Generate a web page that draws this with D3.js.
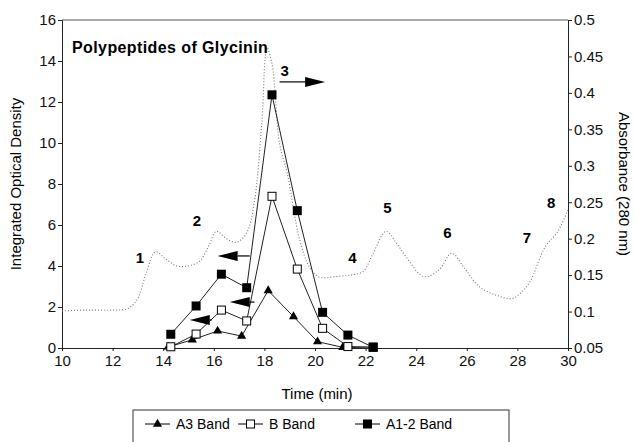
<!DOCTYPE html>
<html>
<head>
<meta charset="utf-8">
<script src="https://cdn.jsdelivr.net/npm/d3@7"></script>
<style>
  body { margin: 0; background: #fff; }
  svg { display: block; font-family: "Liberation Sans", Arial, sans-serif; }
  .axis path, .axis line { stroke: #222; }
  .axis text { font-size: 15px; fill: #111; }
</style>
</head>
<body>
<svg id="chart" width="635" height="442"></svg>
<script>
// elution time of each gel fraction (min)
const a3Time = [14.2, 15.15, 16.15, 17.1, 18.15, 19.15, 20.1, 21.1, 22.3];
const a3Vals = [0.05, 0.4, 0.83, 0.58, 2.8, 1.53, 0.31, 0.03, 0.0];

const bTime = [14.3, 15.3, 16.3, 17.3, 18.3, 19.3, 20.3, 21.3, 22.3];
const bVals = [0.06, 0.68, 1.85, 1.32, 7.4, 3.85, 0.96, 0.07, 0.05];

const a12Time = [14.3, 15.3, 16.3, 17.3, 18.3, 19.3, 20.3, 21.3, 22.3];
const a12Vals = [0.67, 2.05, 3.6, 2.94, 12.35, 6.7, 1.74, 0.63, 0.03];

// absorbance trace at 280 nm (right axis)
const absTime = [10, 11, 12, 12.6, 13.0, 13.3, 13.7, 14.1, 14.6, 15.4, 15.8, 16.1, 16.5, 16.9, 17.3,
  17.6, 17.9, 18.1, 18.3, 18.6, 18.9, 19.4, 19.8, 20.2, 20.8, 21.4, 21.9, 22.3, 22.8, 23.2, 23.6,
  24.3, 24.9, 25.4, 25.9, 26.5, 27.2, 27.8, 28.2, 28.5, 29.1, 29.6, 30];
const absVals = [0.101, 0.102, 0.102, 0.104, 0.118, 0.15, 0.182, 0.172, 0.162, 0.168, 0.19, 0.21, 0.2, 0.195, 0.208,
  0.25, 0.36, 0.462, 0.44, 0.33, 0.29, 0.198, 0.16, 0.147, 0.148, 0.15, 0.155, 0.18, 0.21, 0.195, 0.175,
  0.148, 0.157, 0.18, 0.16, 0.134, 0.122, 0.118, 0.128, 0.141, 0.189, 0.21, 0.24];

// peak numbers, placed in (time, left-axis) units
const peakLabels = ['1', '2', '3', '4', '5', '6', '7', '8'];
const peakTime = [13.08, 15.33, 18.8, 21.48, 22.86, 25.23, 28.38, 29.33];
const peakY = [4.4, 6.2, 13.5, 4.4, 6.85, 5.6, 5.35, 7.05];

// arrows: [tail time, head time, left-axis value]
const arrows = [
  [18.6, 20.4, 12.98],
  [17.42, 16.15, 4.49],
  [17.61, 16.63, 2.24],
  [15.92, 15.05, 1.37]
];

const legendNames = ['A3 Band', 'B Band', 'A1-2 Band'];

const svg = d3.select('#chart');

const x = d3.scaleLinear().domain([10, 30]).range([62, 568]);
const yL = d3.scaleLinear().domain([0, 16]).range([348, 20]);
const yR = d3.scaleLinear().domain([0.05, 0.5]).range([348, 20]);

// frame top
svg.append('line')
    .attr('x1', x(10)).attr('x2', x(30))
    .attr('y1', yL(16)).attr('y2', yL(16))
    .attr('stroke', '#555').attr('stroke-width', 1);

// axes
svg.append('g')
    .attr('class', 'axis')
    .attr('transform', `translate(0,${yL(0)})`)
    .call(d3.axisBottom(x).tickValues(d3.range(10, 31, 2)).tickSize(3).tickPadding(4));

svg.append('g')
    .attr('class', 'axis')
    .attr('transform', `translate(${x(10)},0)`)
    .call(d3.axisLeft(yL).tickValues(d3.range(0, 17, 2)).tickSize(4).tickPadding(2));

svg.append('g')
    .attr('class', 'axis')
    .attr('transform', `translate(${x(30)},0)`)
    .call(d3.axisRight(yR)
        .tickValues(d3.range(0.05, 0.501, 0.05))
        .tickFormat(d => String(+d.toFixed(2)))
        .tickSize(4).tickPadding(2));

svg.selectAll('.axis path').attr('stroke-width', 1);

// axis titles
svg.append('text')
    .attr('x', (x(10) + x(30)) / 2 + 2)
    .attr('y', 399)
    .attr('text-anchor', 'middle')
    .style('font-size', '15px')
    .text('Time (min)');

svg.append('text')
    .attr('transform', `translate(21,${(yL(0) + yL(16)) / 2}) rotate(-90)`)
    .attr('text-anchor', 'middle')
    .style('font-size', '15px')
    .text('Integrated Optical Density');

svg.append('text')
    .attr('transform', `translate(619,${(yL(0) + yL(16)) / 2}) rotate(90)`)
    .attr('text-anchor', 'middle')
    .style('font-size', '15px')
    .text('Absorbance (280 nm)');

// absorbance trace
const absData = absTime.map((t, i) => ({ t, v: absVals[i] }));
svg.append('path')
    .datum(absData)
    .attr('fill', 'none')
    .attr('stroke', '#777')
    .attr('stroke-width', 1.1)
    .attr('stroke-dasharray', '1,2')
    .attr('d', d3.line().x(d => x(d.t)).y(d => yR(d.v)).curve(d3.curveCatmullRom));

// band series
const series = [
  { name: legendNames[0], t: a3Time, v: a3Vals, shape: 'tri' },
  { name: legendNames[1], t: bTime, v: bVals, shape: 'open' },
  { name: legendNames[2], t: a12Time, v: a12Vals, shape: 'sq' }
];

function drawMarker(g, shape) {
    if (shape === 'tri') {
        g.append('path').attr('d', d3.symbol(d3.symbolTriangle, 36)).attr('fill', '#000');
    } else if (shape === 'open') {
        g.append('rect').attr('x', -4).attr('y', -4).attr('width', 8).attr('height', 8)
            .attr('fill', '#fff').attr('stroke', '#000').attr('stroke-width', 1);
    } else {
        g.append('rect').attr('x', -4.5).attr('y', -4.5).attr('width', 9).attr('height', 9)
            .attr('fill', '#000');
    }
}

const lineGen = d3.line().x(d => x(d.t)).y(d => yL(d.v));

series.forEach(s => {
    const pts = s.t.map((t, i) => ({ t, v: s.v[i] }));
    svg.append('path')
        .datum(pts)
        .attr('fill', 'none')
        .attr('stroke', '#222')
        .attr('stroke-width', 1)
        .attr('d', lineGen);
    svg.selectAll(null)
        .data(pts)
        .enter()
        .append('g')
        .attr('transform', d => `translate(${x(d.t)},${yL(d.v)})`)
        .each(function () { drawMarker(d3.select(this), s.shape); });
});

// chart title
svg.append('text')
    .attr('x', 72)
    .attr('y', 53)
    .style('font-size', '16px')
    .style('font-weight', 'bold')
    .style('letter-spacing', '0.4px')
    .text('Polypeptides of Glycinin');

// peak numbers
svg.selectAll('.peak')
    .data(peakLabels)
    .enter()
    .append('text')
    .attr('class', 'peak')
    .attr('x', (d, i) => x(peakTime[i]))
    .attr('y', (d, i) => yL(peakY[i]) + 5)
    .attr('text-anchor', 'middle')
    .style('font-size', '15px')
    .style('font-weight', 'bold')
    .text(d => d);

// arrows
arrows.forEach(([t0, t1, v]) => {
    const x0 = x(t0), x1 = x(t1), yy = yL(v);
    const dir = Math.sign(x1 - x0);
    const headLen = 20;
    svg.append('line')
        .attr('x1', x0).attr('x2', x1 - dir * headLen)
        .attr('y1', yy).attr('y2', yy)
        .attr('stroke', '#000').attr('stroke-width', 1.2);
    svg.append('path')
        .attr('d', `M${x1},${yy} L${x1 - dir * headLen},${yy - 5} L${x1 - dir * headLen},${yy + 5} Z`)
        .attr('fill', '#000');
});

// legend
svg.append('rect')
    .attr('x', 133).attr('y', 410)
    .attr('width', 376).attr('height', 60)
    .attr('fill', 'none').attr('stroke', '#333').attr('stroke-width', 1);

const legendX = [145, 238, 355];
const legend = svg.selectAll('.leg')
    .data(series)
    .enter()
    .append('g')
    .attr('class', 'leg')
    .attr('transform', (d, i) => `translate(${legendX[i]},424)`);

legend.append('line')
    .attr('x1', 0).attr('x2', 25)
    .attr('stroke', '#000').attr('stroke-width', 1);
legend.append('g')
    .attr('transform', 'translate(12.5,0)')
    .each(function (d) { drawMarker(d3.select(this), d.shape); });
legend.append('text')
    .attr('x', 31).attr('y', 5)
    .style('font-size', '14px')
    .text(d => d.name);
</script>
</body>
</html>
